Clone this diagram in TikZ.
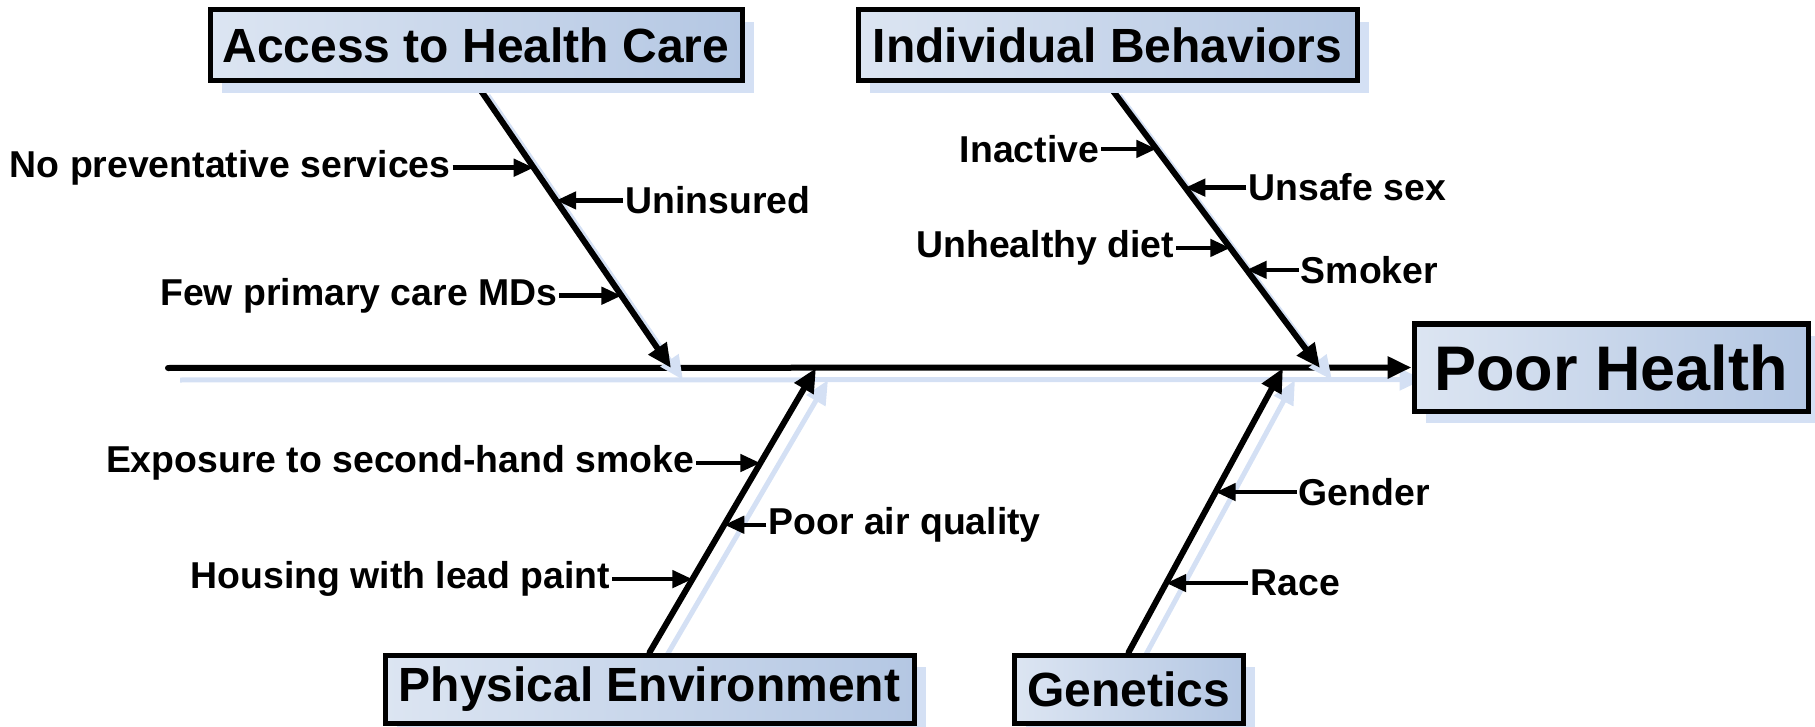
\documentclass[tikz,border=0pt]{standalone}
\usepackage{fontspec}
\setmainfont{Liberation Sans}
\usetikzlibrary{positioning,arrows.meta,shadows}
\definecolor{boxlight}{RGB}{220,229,242}
\definecolor{boxdark}{RGB}{180,199,227}
\definecolor{shadeblue}{RGB}{212,224,244}
\pgfdeclarelayer{background}
\pgfsetlayers{background,main}
\begin{document}
\begin{tikzpicture}[x=1pt,y=-1pt,
    cause/.style={draw,line width=5pt,left color=boxlight,right color=boxdark,inner sep=0pt,
      font=\fontsize{48}{56}\selectfont\bfseries,
      drop shadow={shadow xshift=12pt,shadow yshift=-12pt,fill=shadeblue,opacity=1}},
    lbl/.style={font=\fontsize{37.4}{44}\selectfont\bfseries,inner sep=2pt},
    bone/.style={line width=6pt,line cap=round,-{Triangle[length=24pt,width=21pt]},
      preaction={draw=shadeblue,line width=5pt,transform canvas={shift={(12pt,-12pt)}}}},
    sub/.style={line width=4.5pt,-{Triangle[length=20pt,width=17pt]}}]
  \useasboundingbox (0,0) rectangle (1815,727);
  \node[cause,minimum width=532pt,minimum height=71pt] (access) at (476,45.5) {Access to Health Care};
  \node[cause,minimum width=499pt,minimum height=71pt] (behave) at (1107.5,45.5) {Individual Behaviors};
  \node[cause,minimum width=529pt,minimum height=68pt] (enviro) at (649.5,689) {Physical Environment};
  \node[cause,minimum width=229pt,minimum height=68pt] (genes) at (1128.5,689) {Genetics};
  \node[cause,minimum width=394pt,minimum height=87pt,font=\fontsize{63}{72}\selectfont\bfseries] (health) at (1611,367.5) {Poor Health};
  \coordinate (tail) at (168,368);
  \coordinate (j1) at (671,368);
  \coordinate (j2) at (816,368);
  \coordinate (j3) at (1283,368);
  \coordinate (j4) at (1320,368);
  \begin{pgfonlayer}{background}
    \draw[bone] (tail) -- (health.west);
    \draw[bone] (access.south) -- coordinate[pos=0.296] (a1) coordinate[pos=0.411] (a2) coordinate[pos=0.746] (a3) (j1);
    \draw[bone] (behave.south) -- coordinate[pos=0.230] (b1) coordinate[pos=0.366] (b2) coordinate[pos=0.578] (b3) coordinate[pos=0.655] (b4) (j4);
    \draw[bone] (enviro.north) -- coordinate[pos=0.258] (e1) coordinate[pos=0.449] (e2) coordinate[pos=0.666] (e3) (j2);
    \draw[bone] (genes.north) -- coordinate[pos=0.244] (g1) coordinate[pos=0.564] (g2) (j3);
  \end{pgfonlayer}
  \node[lbl,left=81pt of a1] (nopre) {No preventative services};
  \node[lbl,right=67pt of a2] (unins) {Uninsured};
  \node[lbl,left=62pt of a3] (fewmd) {Few primary care MDs};
  \node[lbl,left=55pt of b1] (inact) {Inactive};
  \node[lbl,right=61pt of b2] (unsafe) {Unsafe sex};
  \node[lbl,left=54pt of b3] (diet) {Unhealthy diet};
  \node[lbl,right=52pt of b4] (smoke) {Smoker};
  \node[lbl,left=80pt of e1] (lead) {Housing with lead paint};
  \node[lbl,right=42pt of e2] (air) {Poor air quality};
  \node[lbl,left=64pt of e3] (second) {Exposure to second-hand smoke};
  \node[lbl,right=82pt of g1] (race) {Race};
  \node[lbl,right=81pt of g2] (gender) {Gender};
  \draw[sub] (nopre) -- (a1);
  \draw[sub] (unins) -- (a2);
  \draw[sub] (fewmd) -- (a3);
  \draw[sub] (inact) -- (b1);
  \draw[sub] (unsafe) -- (b2);
  \draw[sub] (diet) -- (b3);
  \draw[sub] (smoke) -- (b4);
  \draw[sub] (lead) -- (e1);
  \draw[sub] (air) -- (e2);
  \draw[sub] (second) -- (e3);
  \draw[sub] (race) -- (g1);
  \draw[sub] (gender) -- (g2);
\end{tikzpicture}
\end{document}
